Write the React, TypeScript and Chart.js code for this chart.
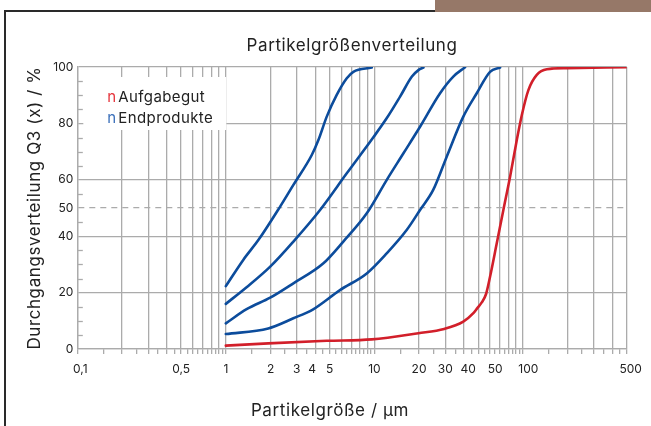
import React, { useEffect, useRef } from 'react';
import { Chart, registerables } from 'chart.js';

Chart.register(...registerables);

const FONT = 'Inter, "Open Sans", sans-serif';
const TEXT = '#222222';
const GRID = '#ababab';
const BLUE = '#0c4c9c';
const RED = '#d21f2a';

const chartTitle = 'Partikelgrößenverteilung';
const xAxisTitle = 'Partikelgröße / µm';
const yAxisTitle = 'Durchgangsverteilung Q3 (x) / %';
const legendMarks = ['n', 'n'];
const legendTexts = ['Aufgabegut', 'Endprodukte'];
const legendColors = ['#e5333b', '#3a6fba'];

// x axis (log) ticks
const xTickLabels = [0.1, 0.5, 1, 2, 3, 4, 5, 10, 20, 30, 40, 50, 100, 500];
const xGridTicks = [
  0.1, 0.2, 0.3, 0.4, 0.5, 0.6, 0.7, 0.8, 0.9,
  1, 2, 3, 4, 5, 6, 7, 8, 9,
  10, 20, 30, 40, 50, 60, 70, 80, 90,
  100, 200, 300, 400, 500,
];
const xMinorTicks = [
  0.15, 0.25, 0.35, 0.45, 0.55, 0.65, 0.75, 0.85, 0.95,
  1.5, 2.5, 3.5, 4.5, 5.5, 6.5, 7.5, 8.5, 9.5,
  15, 25, 35, 45, 55, 65, 75, 85, 95,
  150, 250, 350, 450,
];

// y axis ticks
const yTickLabels = [0, 20, 40, 50, 60, 80, 100];
const yGridLines = [0, 20, 40, 60, 80, 100];
const yDashedLines = [50];
const yMinorTicks = [5, 10, 15, 25, 30, 35, 45, 55, 65, 70, 75, 85, 90, 95];

// Aufgabegut (feed material)
const feedX = [1.0, 1.93, 4.78, 9.6, 19.8, 29.5, 39.7, 46.4, 49.5, 53.0, 56.5, 60.1, 66.7, 73.9, 82, 91, 98.4, 108.9, 124, 145, 198, 500];
const feedY = [1.2, 2.0, 2.9, 3.4, 5.6, 7.1, 9.7, 12.7, 14.6, 16.6, 19.5, 25.6, 37.5, 49.3, 61.1, 74.1, 83, 91.8, 97.2, 99.2, 99.6, 99.9];

// Endprodukte (products)
const prod1X = [1.0, 1.31, 1.66, 2.32, 2.85, 3.79, 4.2, 4.78, 5.58, 6.52, 7.22, 9.6];
const prod1Y = [22.3, 31.6, 38.7, 50.5, 58.2, 68.8, 74.1, 82.4, 90.1, 96, 98.3, 99.8];

const prod2X = [1.0, 1.38, 1.99, 2.85, 4.31, 6.52, 9.85, 12.1, 14.9, 17.9, 19.8, 21.4];
const prod2Y = [16, 21.9, 29.2, 38.1, 49.3, 62.3, 75.1, 81.8, 89.5, 96.6, 98.9, 99.8];

const prod3X = [1.0, 1.38, 1.99, 2.85, 4.54, 6.18, 8.89, 12.1, 15.7, 20.3, 27.7, 34.0, 40.8];
const prod3Y = [9.1, 14.1, 18.2, 23.3, 30.4, 38.1, 48.1, 59.9, 69.4, 78.8, 90.7, 96.6, 99.9];

const prod4X = [1.0, 1.93, 2.85, 3.85, 5.87, 8.89, 12.1, 16.5, 20.3, 24.9, 30.7, 39.7, 48.9, 60.1, 70.2];
const prod4Y = [5.3, 7.3, 10.9, 14.0, 20.9, 26.8, 33.9, 42.2, 49.3, 56.4, 68.2, 82.4, 90.7, 98.3, 99.8];

const near = (a: number, b: number) => Math.abs(a - b) < 1e-9 * Math.max(1, Math.abs(b));
const inList = (v: number, list: number[]) => list.some((l) => near(v, l));
const fmt = (v: number) => String(v).replace('.', ',');

// small horizontal nudges of x tick labels, as in the original artwork
const xLabelNudge = (v: number) => {
  if (near(v, 0.1)) return 3;
  if (near(v, 4)) return -3;
  if (near(v, 40)) return 4.5;
  if (near(v, 50)) return 17;
  if (near(v, 100)) return 5.5;
  if (near(v, 500)) return 4;
  return 0;
};

const toPoints = (xs: number[], ys: number[]) => xs.map((x, i) => ({ x, y: ys[i] }));

const lineDs = (label: string, xs: number[], ys: number[], color: string) => ({
  label,
  data: toPoints(xs, ys),
  borderColor: color,
  backgroundColor: color,
  borderWidth: 2.6,
  pointRadius: 0,
  fill: false,
  cubicInterpolationMode: 'monotone' as const,
  borderCapStyle: 'round' as const,
});

const setSpacing = (ctx: any, s: string) => {
  if ('letterSpacing' in ctx) ctx.letterSpacing = s;
};

const decorPlugin = {
  id: 'decor',
  beforeDatasetsDraw(chart: any) {
    const { ctx, chartArea, scales } = chart;
    const y = scales.y;
    ctx.save();
    // legend box (white, hides grid)
    ctx.fillStyle = '#ffffff';
    ctx.fillRect(chartArea.left + 6, chartArea.top + 10, 143, 53);
    // minor y ticks inside the plot
    ctx.strokeStyle = GRID;
    ctx.lineWidth = 1.3;
    yMinorTicks.forEach((v) => {
      const py = Math.round(y.getPixelForValue(v)) + 0.5;
      ctx.beginPath();
      ctx.moveTo(chartArea.left, py);
      ctx.lineTo(chartArea.left + 5.5, py);
      ctx.stroke();
    });
    // legend texts
    ctx.font = `15px ${FONT}`;
    ctx.textBaseline = 'middle';
    ctx.textAlign = 'left';
    setSpacing(ctx, '0.4px');
    legendTexts.forEach((t, i) => {
      const ly = chartArea.top + 30.5 + i * 20.5;
      ctx.fillStyle = legendColors[i];
      ctx.fillText(legendMarks[i], chartArea.left + 30, ly);
      ctx.fillStyle = TEXT;
      ctx.fillText(t, chartArea.left + 41, ly);
    });
    ctx.restore();
  },
  afterDraw(chart: any) {
    const { ctx, chartArea, scales } = chart;
    const cx = (chartArea.left + chartArea.right) / 2;
    const cy = (chartArea.top + chartArea.bottom) / 2;
    ctx.save();
    ctx.fillStyle = TEXT;
    ctx.textAlign = 'center';
    ctx.textBaseline = 'middle';
    // x tick labels
    ctx.font = `12px ${FONT}`;
    xTickLabels.forEach((v) => {
      const px = scales.x.getPixelForValue(v) + xLabelNudge(v);
      ctx.fillText(fmt(v), px, 369.5);
    });
    // titles
    setSpacing(ctx, '0.6px');
    ctx.font = `17px ${FONT}`;
    ctx.fillText(chartTitle, cx, 45.5);
    ctx.font = `17px ${FONT}`;
    ctx.fillText(xAxisTitle, cx - 22, 411);
    ctx.save();
    ctx.translate(35, cy);
    ctx.rotate(-Math.PI / 2);
    ctx.fillText(yAxisTitle, 0, 0);
    ctx.restore();
    ctx.restore();
  },
};

export default function App() {
  const ref = useRef<HTMLCanvasElement | null>(null);

  useEffect(() => {
    if (!ref.current) return;
    const allX = [...xGridTicks, ...xMinorTicks].sort((a, b) => a - b);
    const allY = [...new Set([...yGridLines, ...yDashedLines, ...yMinorTicks, ...yTickLabels])].sort((a, b) => a - b);
    const chart = new Chart(ref.current, {
      type: 'line',
      data: {
        datasets: [
          lineDs('Endprodukte 1', prod1X, prod1Y, BLUE),
          lineDs('Endprodukte 2', prod2X, prod2Y, BLUE),
          lineDs('Endprodukte 3', prod3X, prod3Y, BLUE),
          lineDs('Endprodukte 4', prod4X, prod4Y, BLUE),
          lineDs('Aufgabegut', feedX, feedY, RED),
        ],
      },
      options: {
        animation: false,
        responsive: false,
        maintainAspectRatio: false,
        layout: { padding: { left: 0, right: 24.3, top: 67, bottom: 0 } },
        plugins: {
          legend: { display: false },
          title: { display: false },
          tooltip: { enabled: false },
        },
        scales: {
          x: {
            type: 'logarithmic',
            min: 0.1,
            max: 500,
            afterBuildTicks: (s: any) => {
              s.ticks = allX.map((v) => ({ value: v }));
            },
            afterFit: (s: any) => {
              s.height = 77;
            },
            ticks: {
              autoSkip: false,
              maxRotation: 0,
              minRotation: 0,
              padding: 6,
              color: TEXT,
              font: { family: FONT, size: 12 },
              callback: () => '',
            },
            grid: {
              color: (c: any) => (c.tick && inList(c.tick.value, xMinorTicks) ? 'rgba(0,0,0,0)' : GRID),
              lineWidth: 1.3,
              tickLength: 5,
              tickColor: GRID,
              tickWidth: 1.3,
            },
            border: { color: GRID, width: 1.3 },
          },
          y: {
            type: 'linear',
            min: 0,
            max: 100,
            afterBuildTicks: (s: any) => {
              s.ticks = allY.map((v) => ({ value: v }));
            },
            afterFit: (s: any) => {
              s.width = 77.3;
            },
            ticks: {
              padding: 4,
              color: TEXT,
              font: { family: FONT, size: 12 },
              callback: (v: any) => (inList(Number(v), yTickLabels) ? String(v) : ''),
            },
            grid: {
              drawTicks: false,
              lineWidth: 1.3,
              color: (c: any) =>
                c.tick && (inList(c.tick.value, yGridLines) || inList(c.tick.value, yDashedLines)) ? GRID : 'rgba(0,0,0,0)',
            },
            border: {
              color: GRID,
              width: 1.3,
              dash: (c: any) => (c.tick && inList(c.tick.value, yDashedLines) ? [6, 5] : []),
            },
          },
        },
      },
      plugins: [decorPlugin],
    } as any);
    return () => chart.destroy();
  }, []);

  return (
    <div style={{ position: 'absolute', left: 0, top: 0, width: 651, height: 426, background: '#fff', overflow: 'hidden' }}>
      <div style={{ position: 'absolute', left: 435, top: 0, width: 216, height: 12, background: '#967868' }} />
      <div style={{ position: 'absolute', left: 4, top: 10, width: 431, height: 0, borderTop: '2px solid #2a2a2a' }} />
      <div style={{ position: 'absolute', left: 4, top: 10, width: 0, height: 416, borderLeft: '2px solid #2a2a2a' }} />
      <canvas ref={ref} width={651} height={426} style={{ position: 'absolute', left: 0, top: 0 }} />
    </div>
  );
}
